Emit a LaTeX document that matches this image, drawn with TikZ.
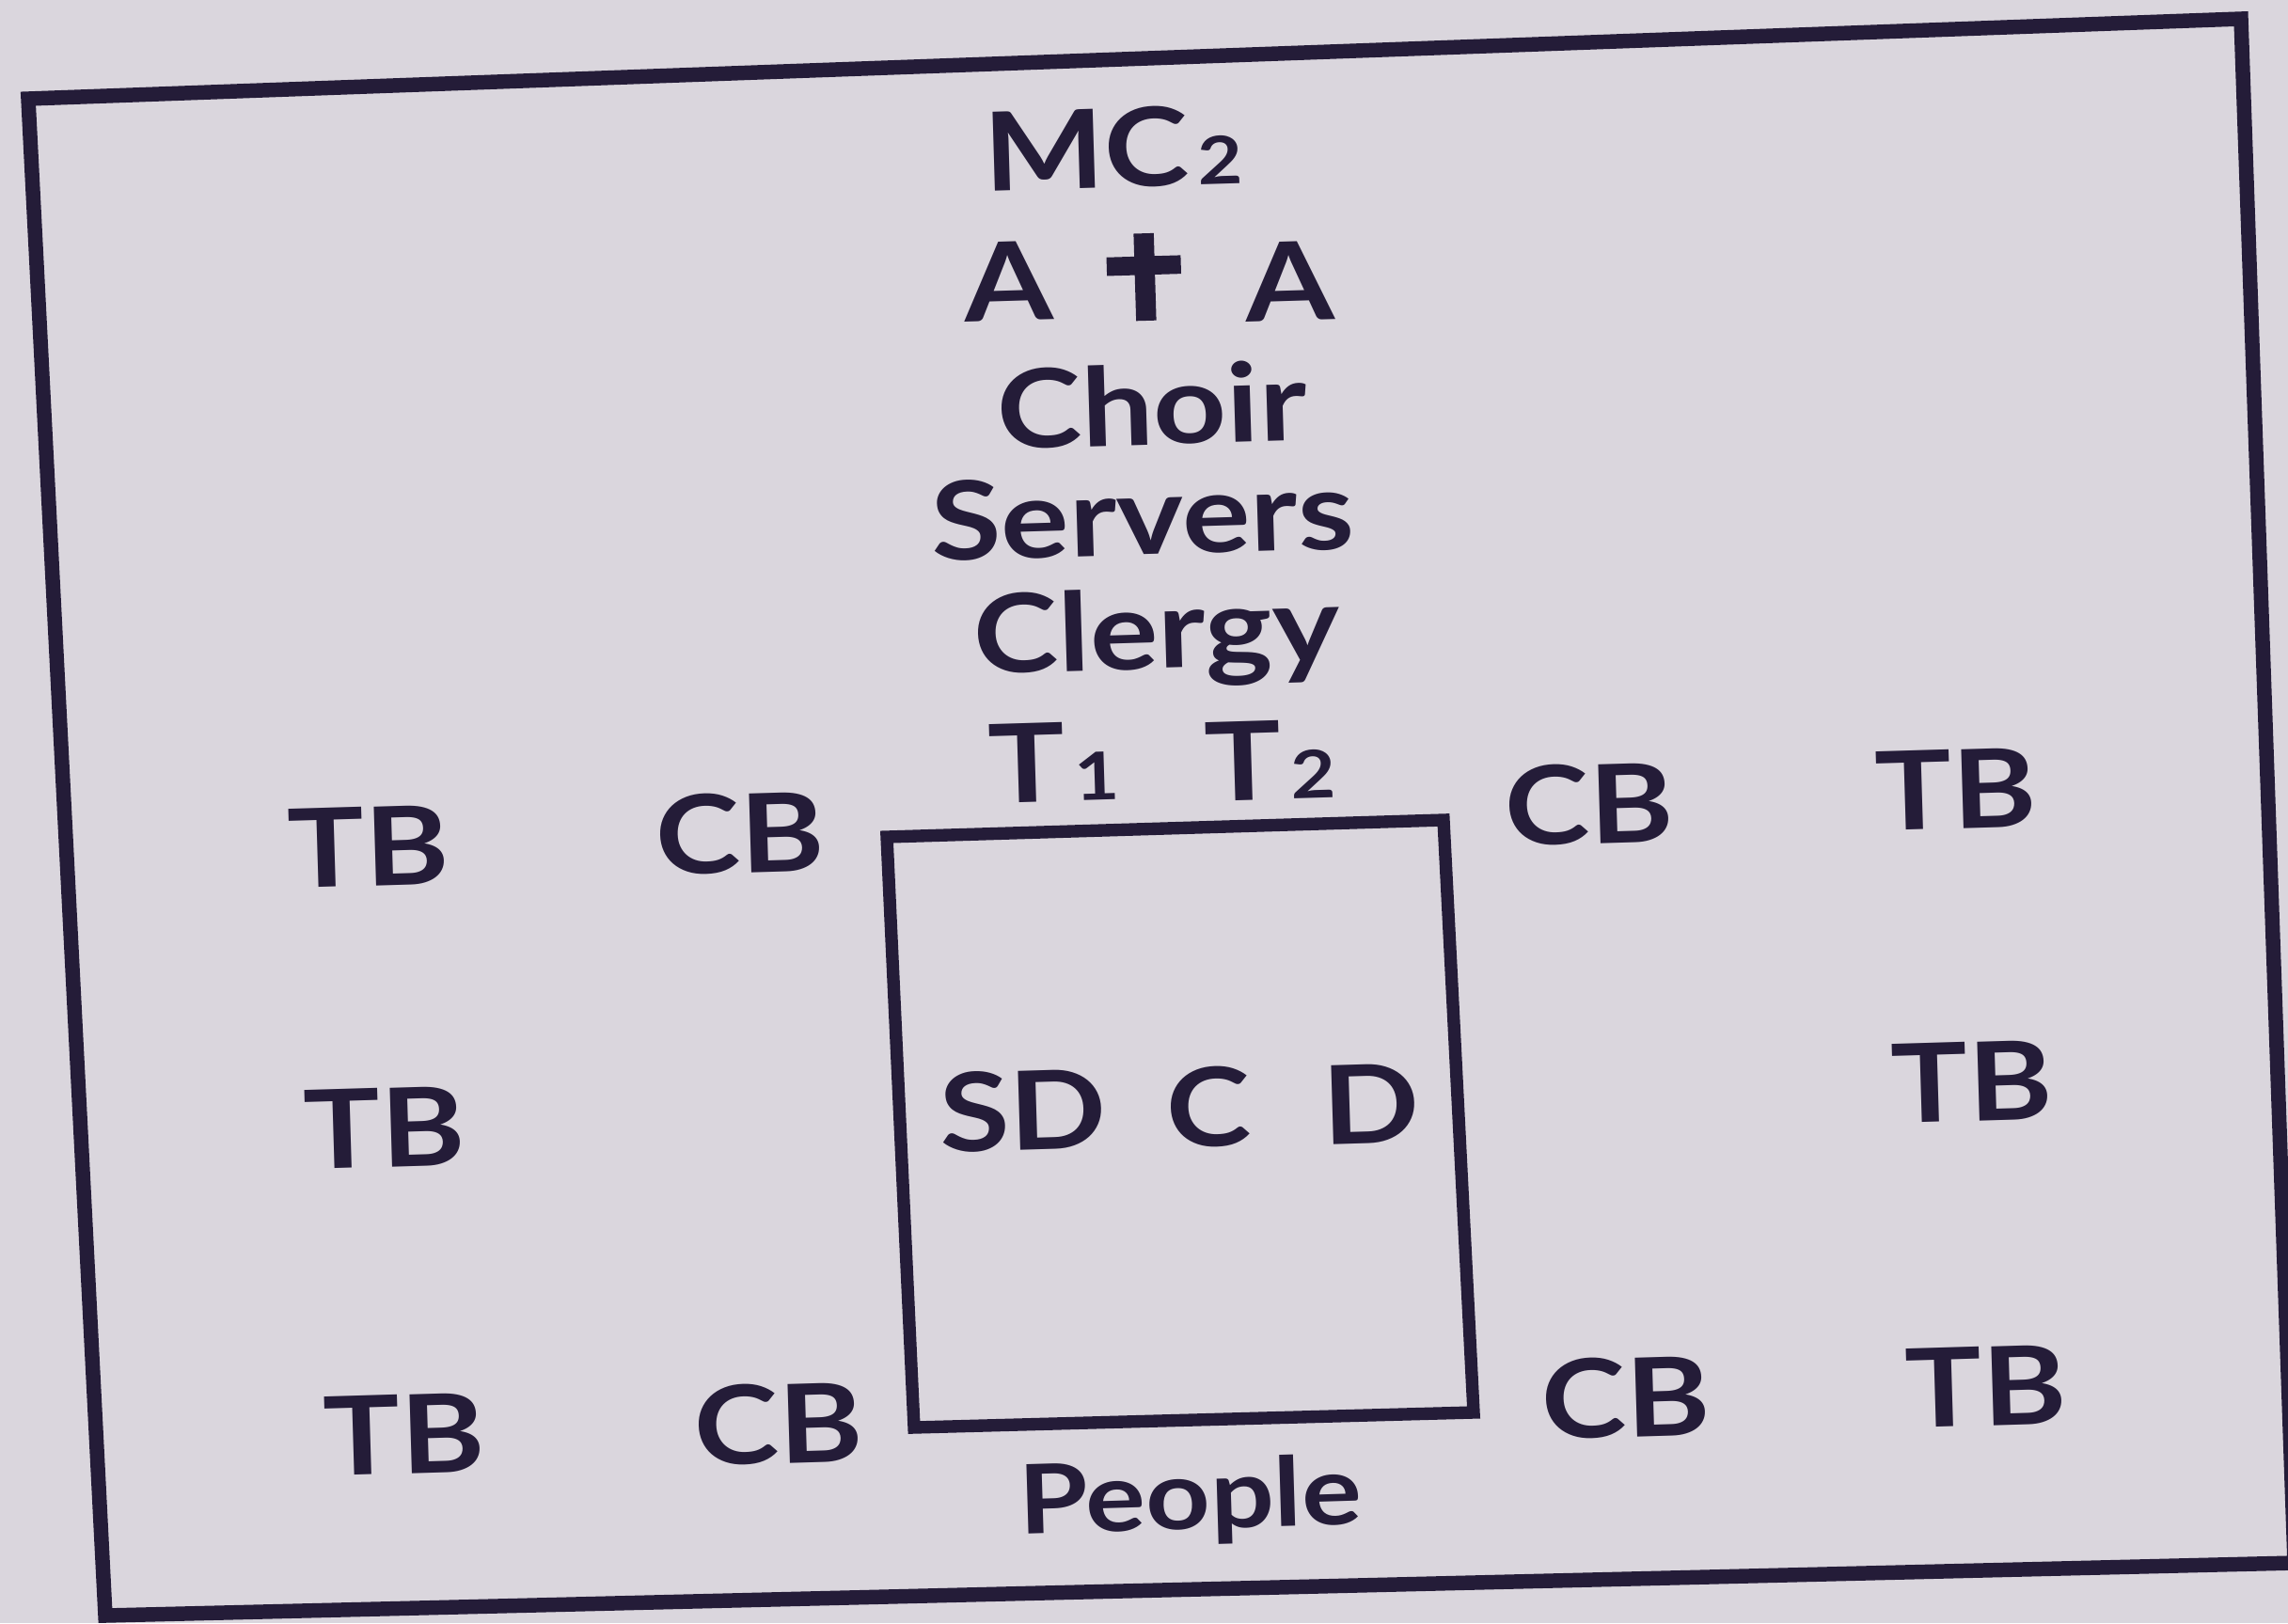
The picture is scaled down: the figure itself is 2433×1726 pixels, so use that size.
\documentclass[tikz,border=0pt]{standalone}
\usepackage{fontspec}
\setmainfont{Lato}[FakeStretch=1.17]
\usepackage{tikz}
\usetikzlibrary{calc}

\definecolor{paper}{RGB}{218,214,221}
\definecolor{ink}{RGB}{36,28,56}

% small figure set on the line, as in MC2, T1, T2
\newcommand\lowfig[1]{\hspace{0.08em}{\fontsize{20}{24}\selectfont #1}}
% a heavy latin cross built from two rules
\newcommand\latincross{\makebox[0.68em][l]{\rule[0.42em]{0.68em}{0.17em}\hspace{-0.425em}\rule{0.185em}{0.8em}}}

\begin{document}
\begin{tikzpicture}[x=0.01cm, y=-0.01cm,
    lbl/.style={inner sep=0pt, anchor=base, text=ink, rotate=1.7,
      font=\fontsize{33}{38}\selectfont\bfseries},
    small/.style={lbl, font=\fontsize{29}{34}\selectfont\bfseries}]
  \useasboundingbox (0,0) rectangle (2433,1726);
  \fill[paper] (0,0) rectangle (2433,1726);

  % outer frame (the photo is a little askew)
  \draw[ink, line width=4.4pt, line join=miter]
    (30,105) -- (2383,20) -- (2440,1662) -- (112,1718) -- cycle;
  % the platform
  \draw[ink, line width=3.8pt]
    (943,890) -- (1535,872) -- (1567,1502) -- (972,1518) -- cycle;

  % procession, top to bottom
  \node[lbl] (mc) at (1185,199) {MC\lowfig{2}};
  \node[lbl] (acolL) at (1074,341) {A};
  \node[lbl] (cross) at (1218,341) {\latincross};
  \node[lbl] (acolR) at (1373,341) {A};
  \node[lbl] (choir) at (1226,473) {Choir};
  \node[lbl] (servers) at (1216,590) {Servers};
  \node[lbl] (clergy) at (1231,711) {Clergy};
  \node[lbl] (tone) at (1122,852) {T\lowfig{1}};
  \node[lbl] (ttwo) at (1352,850) {T\lowfig{2}};

  % benches left
  \node[lbl] (tbTL) at (393,942) {TB};
  \node[lbl] (cbTL) at (788,928) {CB};
  \node[lbl] (tbML) at (410,1241) {TB};
  \node[lbl] (tbBL) at (431,1567) {TB};
  \node[lbl] (cbBL) at (829,1556) {CB};
  % benches right
  \node[lbl] (cbTR) at (1691,897) {CB};
  \node[lbl] (tbTR) at (2081,881) {TB};
  \node[lbl] (tbMR) at (2098,1192) {TB};
  \node[lbl] (cbBR) at (1730,1528) {CB};
  \node[lbl] (tbBR) at (2113,1516) {TB};

  % on the platform
  \node[lbl] (sd) at (1089,1223) {SD};
  \node[lbl] (cel) at (1286,1219) {C};
  \node[lbl] (dea) at (1459,1216) {D};

  \node[small] (people) at (1267,1626) {People};
\end{tikzpicture}
\end{document}
